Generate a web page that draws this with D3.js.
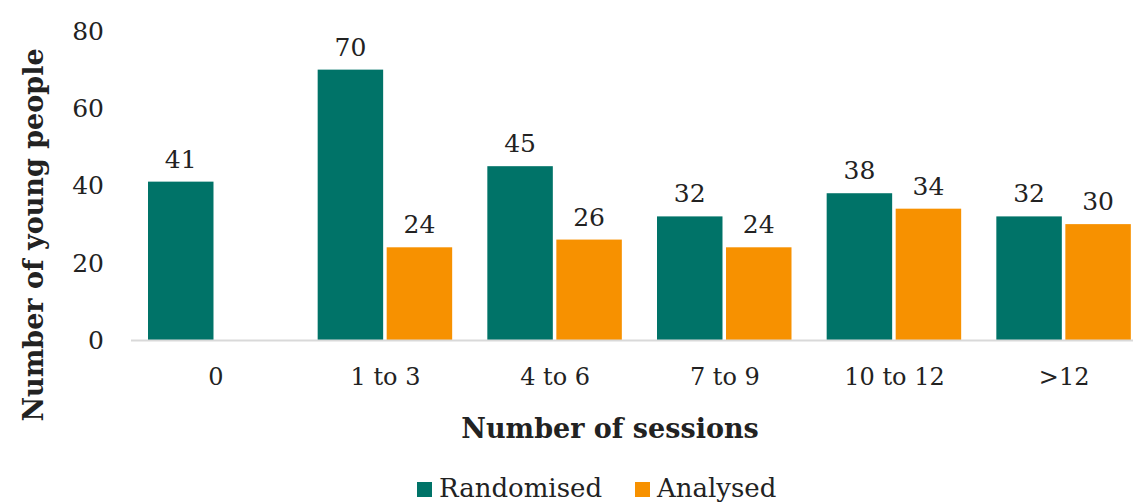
<!DOCTYPE html>
<html>
<head>
<meta charset="utf-8">
<script src="https://cdn.jsdelivr.net/npm/d3@7"></script>
<style>
  body { margin: 0; background: #fff; }
  text { font-family: Georgia, "DejaVu Serif", serif; fill: #222; }
</style>
</head>
<body>
<div id="chart"></div>
<script>
// chart data
var categories = ["0", "1 to 3", "4 to 6", "7 to 9", "10 to 12", ">12"];
var seriesNames = ["Randomised", "Analysed"];
var randomised = [41, 70, 45, 32, 38, 32];
var analysed = [null, 24, 26, 24, 34, 30];
var yTicks = [0, 20, 40, 60, 80];
var colors = ["#007368", "#F79100"];

var W = 1133, H = 502;

var svg = d3.select("#chart")
  .append("svg")
    .attr("width", W)
    .attr("height", H);

var rows = categories.map(function(c, i) {
  return {cat: c, values: [randomised[i], analysed[i]]};
});

// scales
var x = d3.scaleBand()
  .domain(categories)
  .range([131, 1149])
  .padding(0);

var xSub = d3.scaleBand()
  .domain(seriesNames)
  .range([17, 151.5])
  .paddingInner(0.051);

var y = d3.scaleLinear()
  .domain([0, 80])
  .range([340, 31]);

// y tick labels
svg.append("g")
  .selectAll("text")
  .data(yTicks)
  .enter()
  .append("text")
    .attr("x", 104)
    .attr("y", function(d) { return y(d); })
    .attr("dy", "0.35em")
    .attr("text-anchor", "end")
    .style("font-size", "25px")
    .text(function(d) { return d; });

// bars
var groups = svg.append("g")
  .selectAll("g")
  .data(rows)
  .enter()
  .append("g")
    .attr("transform", function(d) { return "translate(" + x(d.cat) + ",0)"; });

groups.selectAll("rect")
  .data(function(d) {
    return d.values.map(function(v, j) { return {name: seriesNames[j], v: v, j: j}; })
      .filter(function(e) { return e.v != null; });
  })
  .enter()
  .append("rect")
    .attr("x", function(d) { return xSub(d.name); })
    .attr("y", function(d) { return y(d.v); })
    .attr("width", xSub.bandwidth())
    .attr("height", function(d) { return y(0) - y(d.v); })
    .attr("fill", function(d) { return colors[d.j]; });

groups.selectAll("text.val")
  .data(function(d) {
    return d.values.map(function(v, j) { return {name: seriesNames[j], v: v}; })
      .filter(function(e) { return e.v != null; });
  })
  .enter()
  .append("text")
    .attr("class", "val")
    .attr("x", function(d) { return xSub(d.name) + xSub.bandwidth() / 2; })
    .attr("y", function(d) { return y(d.v) - 14; })
    .attr("text-anchor", "middle")
    .style("font-size", "25px")
    .text(function(d) { return d.v; });

// baseline
svg.append("line")
  .attr("x1", 131)
  .attr("x2", W)
  .attr("y1", y(0) + 0.5)
  .attr("y2", y(0) + 0.5)
  .attr("stroke", "#d9d9d9")
  .attr("stroke-width", 2);

// x category labels
svg.append("g")
  .selectAll("text")
  .data(categories)
  .enter()
  .append("text")
    .attr("x", function(d) { return x(d) + x.bandwidth() / 2; })
    .attr("y", 385)
    .attr("text-anchor", "middle")
    .style("font-size", "24px")
    .text(function(d) { return d; });

// axis titles
svg.append("text")
  .attr("x", 610)
  .attr("y", 438)
  .attr("text-anchor", "middle")
  .style("font-size", "27px")
  .style("font-weight", "bold")
  .text("Number of sessions");

svg.append("text")
  .attr("transform", "translate(43,235)rotate(-90)")
  .attr("text-anchor", "middle")
  .style("font-size", "27px")
  .style("font-weight", "bold")
  .text("Number of young people");

// legend
var legendX = [417, 635];
var legend = svg.append("g")
  .selectAll("g")
  .data(seriesNames)
  .enter()
  .append("g")
    .attr("transform", function(d, i) { return "translate(" + legendX[i] + ",482)"; });

legend.append("rect")
  .attr("width", 15)
  .attr("height", 15)
  .attr("fill", function(d, i) { return colors[i]; });

legend.append("text")
  .attr("x", 22)
  .attr("y", 15)
  .style("font-size", "26px")
  .text(function(d) { return d; });
</script>
</body>
</html>
